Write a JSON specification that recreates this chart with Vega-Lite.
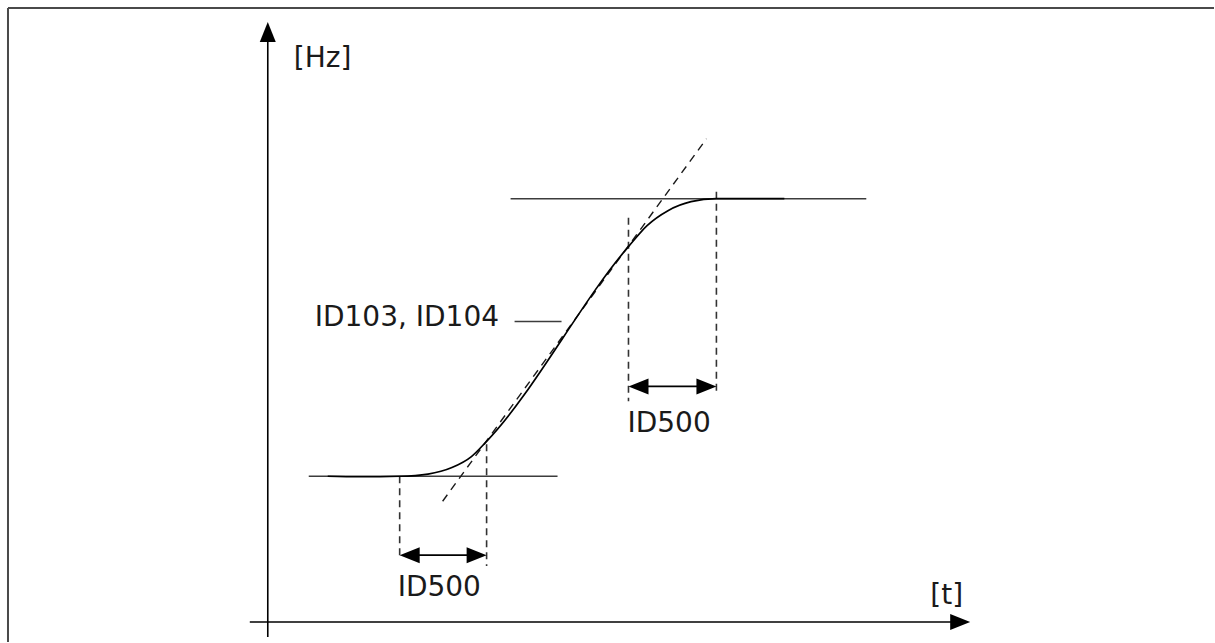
{
  "$schema": "https://vega.github.io/schema/vega-lite/v6.json",
  "width": 1215,
  "height": 643,
  "autosize": {"type": "fit", "contains": "padding"},
  "padding": 0,
  "background": "white",
  "config": {"view": {"stroke": null}},
  "datasets": {
    "segs": [
      {"style": "frame", "x": -260, "x2": 947, "y": 615, "y2": 615},
      {"style": "frame", "x": -260, "x2": -260, "y": 615, "y2": -20},
      {"style": "axis", "x": 0, "x2": 0, "y": -15, "y2": 585},
      {"style": "axis", "x": -18, "x2": 685, "y": 0, "y2": 0},
      {"style": "level", "x": 41, "x2": 290, "y": 146, "y2": 146},
      {"style": "level", "x": 243, "x2": 599, "y": 424, "y2": 424},
      {"style": "guide", "x": 132, "x2": 132, "y": 146, "y2": 66},
      {"style": "guide", "x": 219, "x2": 219, "y": 178, "y2": 56},
      {"style": "guide", "x": 361, "x2": 361, "y": 405, "y2": 221},
      {"style": "guide", "x": 449, "x2": 449, "y": 431, "y2": 230},
      {"style": "tangent", "x": 175, "x2": 439, "y": 121, "y2": 484},
      {"style": "arrow", "x": 140, "x2": 211, "y": 67, "y2": 67},
      {"style": "arrow", "x": 369, "x2": 441, "y": 236, "y2": 236},
      {"style": "leader", "x": 247, "x2": 294, "y": 301, "y2": 301}
    ],
    "curve": [
      {"i": 0, "x": 60, "y": 146},
      {"i": 1, "x": 92, "y": 145.5},
      {"i": 2, "x": 132, "y": 146},
      {"i": 3, "x": 160.3, "y": 148.2},
      {"i": 4, "x": 184.3, "y": 154.7},
      {"i": 5, "x": 203.8, "y": 165.7},
      {"i": 6, "x": 219, "y": 181},
      {"i": 7, "x": 361, "y": 376},
      {"i": 8, "x": 379.6, "y": 397},
      {"i": 9, "x": 400.5, "y": 412},
      {"i": 10, "x": 423.6, "y": 421},
      {"i": 11, "x": 449, "y": 424},
      {"i": 12, "x": 517, "y": 424}
    ],
    "heads": [
      {"dir": "up", "x": 0, "y": 591},
      {"dir": "right", "x": 693, "y": 0},
      {"dir": "left", "x": 142, "y": 67},
      {"dir": "right", "x": 209, "y": 67},
      {"dir": "left", "x": 371, "y": 236},
      {"dir": "right", "x": 439, "y": 236}
    ],
    "labels": [
      {"text": "[Hz]", "x": 26, "y": 556},
      {"text": "[t]", "x": 663, "y": 18},
      {"text": "ID103, ID104", "x": 47, "y": 296},
      {"text": "ID500", "x": 130, "y": 26},
      {"text": "ID500", "x": 360, "y": 190}
    ]
  },
  "encoding": {
    "x": {"field": "x", "type": "quantitative", "axis": null, "scale": {"domain": [-268, 947], "nice": false, "zero": false}},
    "y": {"field": "y", "type": "quantitative", "axis": null, "scale": {"domain": [-20, 623], "nice": false, "zero": false}}
  },
  "layer": [
    {
      "data": {"name": "segs"},
      "transform": [{"filter": "datum.style === 'frame'"}],
      "mark": {"type": "rule", "color": "#4a4a4a", "strokeWidth": 2},
      "encoding": {"x2": {"field": "x2"}, "y2": {"field": "y2"}}
    },
    {
      "data": {"name": "segs"},
      "transform": [{"filter": "datum.style === 'axis' || datum.style === 'arrow'"}],
      "mark": {"type": "rule", "color": "#000000", "strokeWidth": 1.6},
      "encoding": {"x2": {"field": "x2"}, "y2": {"field": "y2"}}
    },
    {
      "data": {"name": "segs"},
      "transform": [{"filter": "datum.style === 'level' || datum.style === 'leader'"}],
      "mark": {"type": "rule", "color": "#3c3c3c", "strokeWidth": 1.6},
      "encoding": {"x2": {"field": "x2"}, "y2": {"field": "y2"}}
    },
    {
      "data": {"name": "segs"},
      "transform": [{"filter": "datum.style === 'guide'"}],
      "mark": {"type": "rule", "color": "#333333", "strokeWidth": 1.6, "strokeDash": [7, 5]},
      "encoding": {"x2": {"field": "x2"}, "y2": {"field": "y2"}}
    },
    {
      "data": {"name": "segs"},
      "transform": [{"filter": "datum.style === 'tangent'"}],
      "mark": {"type": "rule", "color": "#1a1a1a", "strokeWidth": 1.4, "strokeDash": [8, 6]},
      "encoding": {"x2": {"field": "x2"}, "y2": {"field": "y2"}}
    },
    {
      "data": {"name": "curve"},
      "mark": {"type": "line", "color": "#000000", "strokeWidth": 1.7, "interpolate": "monotone"},
      "encoding": {"order": {"field": "i", "type": "quantitative"}}
    },
    {
      "data": {"name": "heads"},
      "mark": {"type": "point", "filled": true, "color": "#000000", "opacity": 1, "size": 400, "strokeWidth": 0},
      "encoding": {
        "shape": {
          "field": "dir",
          "type": "nominal",
          "legend": null,
          "scale": {
            "domain": ["up", "right", "left"],
            "range": ["M0,-1L0.8,1L-0.8,1Z", "M1,0L-1,0.8L-1,-0.8Z", "M-1,0L1,-0.8L1,0.8Z"]
          }
        }
      }
    },
    {
      "data": {"name": "labels"},
      "mark": {"type": "text", "font": "DejaVu Sans", "fontSize": 28, "color": "#1a1a1a", "align": "left", "baseline": "alphabetic"},
      "encoding": {"text": {"field": "text"}}
    }
  ]
}
